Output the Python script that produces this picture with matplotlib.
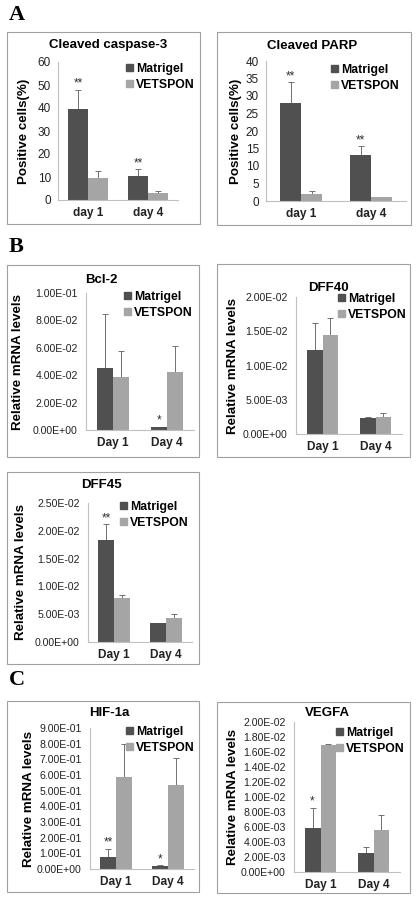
import matplotlib
matplotlib.use('Agg')
import matplotlib.pyplot as plt
from matplotlib.patches import Rectangle, Patch

W, H = 416, 897
plt.rcParams['font.family'] = ['Liberation Sans', 'DejaVu Sans']

series = ['Matrigel', 'VETSPON']
days_a = ['day 1', 'day 4']
days = ['Day 1', 'Day 4']

# panel A
casp_mat = [39.5, 10.5]
casp_mat_err = [8.5, 3.0]
casp_vet = [9.5, 3.0]
casp_vet_err = [3.0, 1.0]
casp_stars = ['**', '**']

parp_mat = [28.0, 13.0]
parp_mat_err = [6.0, 2.7]
parp_vet = [2.0, 1.0]
parp_vet_err = [0.8, 0.1]
parp_stars = ['**', '**']

# panel B
bcl_mat = [0.045, 0.002]
bcl_mat_err = [0.040, 0.0005]
bcl_vet = [0.039, 0.042]
bcl_vet_err = [0.019, 0.019]
bcl_stars = ['', '*']

d40_mat = [0.0122, 0.0024]
d40_mat_err = [0.0040, 0.0001]
d40_vet = [0.0144, 0.0025]
d40_vet_err = [0.0026, 0.0005]
d40_stars = ['', '']

d45_mat = [0.0184, 0.0034]
d45_mat_err = [0.0028, 0.0001]
d45_vet = [0.0079, 0.0044]
d45_vet_err = [0.0005, 0.0007]
d45_stars = ['**', '']

# panel C
hif_mat = [0.075, 0.02]
hif_mat_err = [0.055, 0.003]
hif_vet = [0.59, 0.535]
hif_vet_err = [0.21, 0.175]
hif_stars = ['**', '*']

veg_mat = [0.0059, 0.0026]
veg_mat_err = [0.0027, 0.0008]
veg_vet = [0.0169, 0.0056]
veg_vet_err = [0.0002, 0.0020]
veg_stars = ['*', '']

DARK = '#505050'
LIGHT = '#a5a5a5'
GRID = '#a0a0a0'


def fx(x):
    return x / W


def fy(y):
    return 1 - y / H


def sci(v, pos):
    return '%.2E' % v


def panel(fig, box, axbox, title, tpos, legpos, ylab, ylabx, cats, ylim, ystep,
          mat, materr, vet, veterr, stars, sci_fmt, width=0.3):
    x0, y0, x1, y1 = box
    fig.patches.append(Rectangle((fx(x0), fy(y1)), fx(x1 - x0), (y1 - y0) / H,
                                 transform=fig.transFigure, fill=False,
                                 edgecolor=GRID, lw=0.8))
    a0, b0, a1, b1 = axbox
    ax = fig.add_axes([fx(a0), fy(b1), fx(a1 - a0), (b1 - b0) / H])
    xs = [0, 1]
    xm = [x - width / 2 for x in xs]
    xv = [x + width / 2 for x in xs]
    ax.bar(xm, mat, width, color=DARK, zorder=2)
    ax.bar(xv, vet, width, color=LIGHT, zorder=2)
    ax.errorbar(xm, mat, yerr=[[0, 0], materr], fmt='none', ecolor='#707070',
                elinewidth=0.7, capsize=2, capthick=0.7, zorder=1)
    ax.errorbar(xv, vet, yerr=[[0, 0], veterr], fmt='none', ecolor='#707070',
                elinewidth=0.7, capsize=2, capthick=0.7, zorder=1)
    for i, s in enumerate(stars):
        if s:
            ax.text(xm[i], mat[i] + materr[i], s, ha='center', va='bottom',
                    fontsize=8.5, color='#303030')
    ax.set_xlim(-0.5, 1.5)
    ax.set_ylim(*ylim)
    ticks = []
    t = ylim[0]
    while t <= ylim[1] + ystep * 0.01:
        ticks.append(t)
        t += ystep
    ax.set_yticks(ticks)
    if sci_fmt:
        ax.yaxis.set_major_formatter(plt.FuncFormatter(sci))
        ax.tick_params(axis='y', labelsize=7.6, pad=6)
    else:
        ax.tick_params(axis='y', labelsize=8.5, pad=5)
    ax.set_xticks(xs)
    ax.set_xticklabels(cats, fontsize=8.6, fontweight='bold')
    ax.tick_params(axis='x', pad=5)
    ax.tick_params(length=0, colors='#222222')
    for sp in ['top', 'right']:
        ax.spines[sp].set_visible(False)
    for sp in ['left', 'bottom']:
        ax.spines[sp].set_color('#c0c0c0')
        ax.spines[sp].set_linewidth(0.8)
    ax.set_facecolor('none')
    fig.text(fx(tpos[0]), fy(tpos[1]), title, ha='center', va='center',
             fontsize=9.5, fontweight='bold')
    fig.text(fx(ylabx), fy((b0 + b1) / 2), ylab, ha='center', va='center',
             rotation=90, fontsize=9.6, fontweight='bold')
    handles = [Patch(color=DARK), Patch(color=LIGHT)]
    fig.legend(handles, series, loc='upper left',
               bbox_to_anchor=(fx(legpos[0]), fy(legpos[1])),
               frameon=False, handlelength=0.55, handleheight=0.55,
               handletextpad=0.3, labelspacing=0.3, borderpad=0, borderaxespad=0,
               prop={'size': 8.8, 'weight': 'bold'})
    return ax


fig = plt.figure(figsize=(W / 100, H / 100), dpi=100)

for lab, y in [('A', 15), ('B', 247), ('C', 680)]:
    fig.text(fx(9), fy(y), lab, family='Liberation Serif', fontweight='bold',
             fontsize=16, va='center', ha='left')

panel(fig, (7, 32, 200, 224), (58, 62, 178, 200), 'Cleaved caspase-3', (108, 45),
      (126, 63), 'Positive cells(%)', 24, days_a, (0, 60), 10,
      casp_mat, casp_mat_err, casp_vet, casp_vet_err, casp_stars, False, 0.33)
panel(fig, (217, 32, 411, 225), (266, 61, 406, 201), 'Cleaved PARP', (312, 46),
      (331, 64), 'Positive cells(%)', 236, days_a, (0, 40), 5,
      parp_mat, parp_mat_err, parp_vet, parp_vet_err, parp_stars, False)
panel(fig, (7, 265, 199, 457), (86, 293, 194, 430), 'Bcl-2', (101, 280),
      (124, 291), 'Relative mRNA levels', 18, days, (0, 0.1), 0.02,
      bcl_mat, bcl_mat_err, bcl_vet, bcl_vet_err, bcl_stars, True)
panel(fig, (217, 264, 410, 457), (296, 297, 402, 434), 'DFF40', (328, 288),
      (338, 293), 'Relative mRNA levels', 233, days, (0, 0.02), 0.005,
      d40_mat, d40_mat_err, d40_vet, d40_vet_err, d40_stars, True)
panel(fig, (7, 472, 199, 664), (88, 503, 192, 642), 'DFF45', (101, 485),
      (120, 501), 'Relative mRNA levels', 21, days, (0, 0.025), 0.005,
      d45_mat, d45_mat_err, d45_vet, d45_vet_err, d45_stars, True)
panel(fig, (7, 701, 199, 892), (90, 728, 194, 869), 'HIF-1a', (109, 713),
      (126, 726), 'Relative mRNA levels', 29, days, (0, 0.9), 0.1,
      hif_mat, hif_mat_err, hif_vet, hif_vet_err, hif_stars, True)
panel(fig, (217, 702, 410, 893), (294, 722, 400, 872), 'VEGFA', (327, 713),
      (336, 727), 'Relative mRNA levels', 233, days, (0, 0.02), 0.002,
      veg_mat, veg_mat_err, veg_vet, veg_vet_err, veg_stars, True)

fig.savefig('out.png', dpi=100)
